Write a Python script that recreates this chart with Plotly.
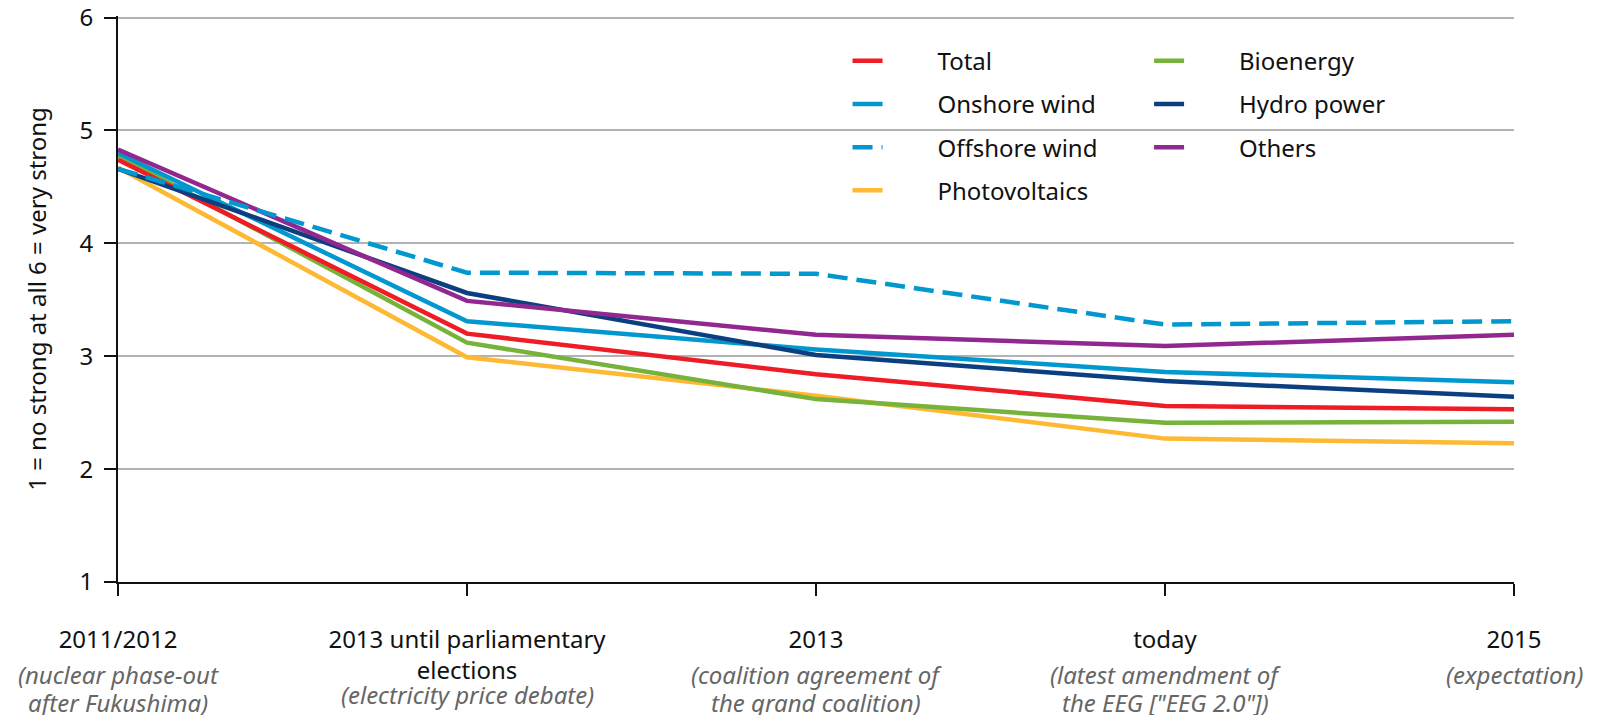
import plotly.graph_objects as go

categories = ["2011/2012", "2013 until parliamentary<br>elections", "2013", "today", "2015"]
subtitles = [
    ["(nuclear phase-out", "after Fukushima)"],
    ["(electricity price debate)"],
    ["(coalition agreement of", "the grand coalition)"],
    ["(latest amendment of", "the EEG [\"EEG 2.0\"])"],
    ["(expectation)"],
]

total = [4.74, 3.20, 2.84, 2.56, 2.53]
onshore = [4.80, 3.31, 3.06, 2.86, 2.77]
offshore = [4.66, 3.74, 3.73, 3.28, 3.31]
pv = [4.67, 2.99, 2.65, 2.27, 2.23]
bio = [4.78, 3.12, 2.62, 2.41, 2.42]
hydro = [4.66, 3.56, 3.01, 2.78, 2.64]
others = [4.83, 3.49, 3.19, 3.09, 3.19]

y_ticks = [1, 2, 3, 4, 5, 6]
y_title = "1 = no strong at all 6 = very strong"

FONT = "Noto Sans"
x_idx = list(range(len(categories)))

series = [
    # name, values, color, dash, legend, rank
    ("Photovoltaics", pv, "#FDB933", "solid", "legend", 4),
    ("Bioenergy", bio, "#77B23B", "solid", "legend2", 1),
    ("Total", total, "#EE1C25", "solid", "legend", 1),
    ("Onshore wind", onshore, "#0098CE", "solid", "legend", 2),
    ("Hydro power", hydro, "#0B3F80", "solid", "legend2", 2),
    ("Others", others, "#92278F", "solid", "legend2", 3),
    ("Offshore wind", offshore, "#0098CE", "20px,9px", "legend", 3),
]

fig = go.Figure()
pad = "\u00a0" * 8
for name, vals, color, dash, leg, rank in series:
    fig.add_trace(go.Scatter(
        x=x_idx, y=vals, mode="lines", name=pad + name,
        line=dict(color=color, width=4.5, dash=dash),
        legend=leg, legendrank=rank, legendgroup=name,
    ))

legend_common = dict(
    font=dict(family=FONT, size=24, color="#111111"),
    bgcolor="rgba(255,255,255,0)", borderwidth=0, tracegroupgap=9,
    traceorder="grouped", xanchor="left", yanchor="top",
    itemwidth=30,
)

annotations = []
for i, lines in enumerate(subtitles):
    first = -112 if "<br>" in categories[i] else -92
    for j, line in enumerate(lines):
        annotations.append(dict(
            x=i, y=0, xref="x", yref="paper", text="<i>" + line + "</i>",
            showarrow=False, yanchor="middle", yshift=first - 28.6 * j,
            font=dict(family=FONT, size=24, color="#666666"),
        ))

fig.add_shape(type="rect", xref="paper", yref="paper", x0=0.507, x1=0.9256,
              y0=0.74, y1=0.86, fillcolor="white", line=dict(width=0), layer="between")

fig.update_layout(
    width=1594, height=707,
    margin=dict(l=110, r=88, t=8, b=133),
    paper_bgcolor="white", plot_bgcolor="white",
    font=dict(family=FONT, color="#111111"),
    showlegend=True,
    legend=dict(x=0.5226, y=0.96, **legend_common),
    legend2=dict(x=0.7386, y=0.96, **legend_common),
    annotations=annotations,
    xaxis=dict(
        range=[0, 4], tickmode="array", tickvals=x_idx, ticktext=categories,
        showgrid=False, zeroline=False, showline=True, linecolor="#111111", linewidth=2,
        ticks="outside", ticklen=12, tickwidth=1.5, tickcolor="#111111",
        tickfont=dict(family=FONT, size=24, color="#111111"),
        ticklabelstandoff=23, automargin=False,
    ),
    yaxis=dict(
        range=[1, 6.0133], tickvals=y_ticks, showgrid=True, gridcolor="#b3b3b3", gridwidth=1.5,
        zeroline=False, showline=True, linecolor="#111111", linewidth=2,
        ticks="outside", ticklen=12, tickwidth=1.5, tickcolor="#111111",
        tickfont=dict(family=FONT, size=24, color="#111111"),
        ticklabelstandoff=6, automargin=False, ticklabeloverflow="allow",
        title=dict(text=y_title, font=dict(family=FONT, size=24, color="#111111"), standoff=26),
    ),
)

fig.write_html("out.html")
